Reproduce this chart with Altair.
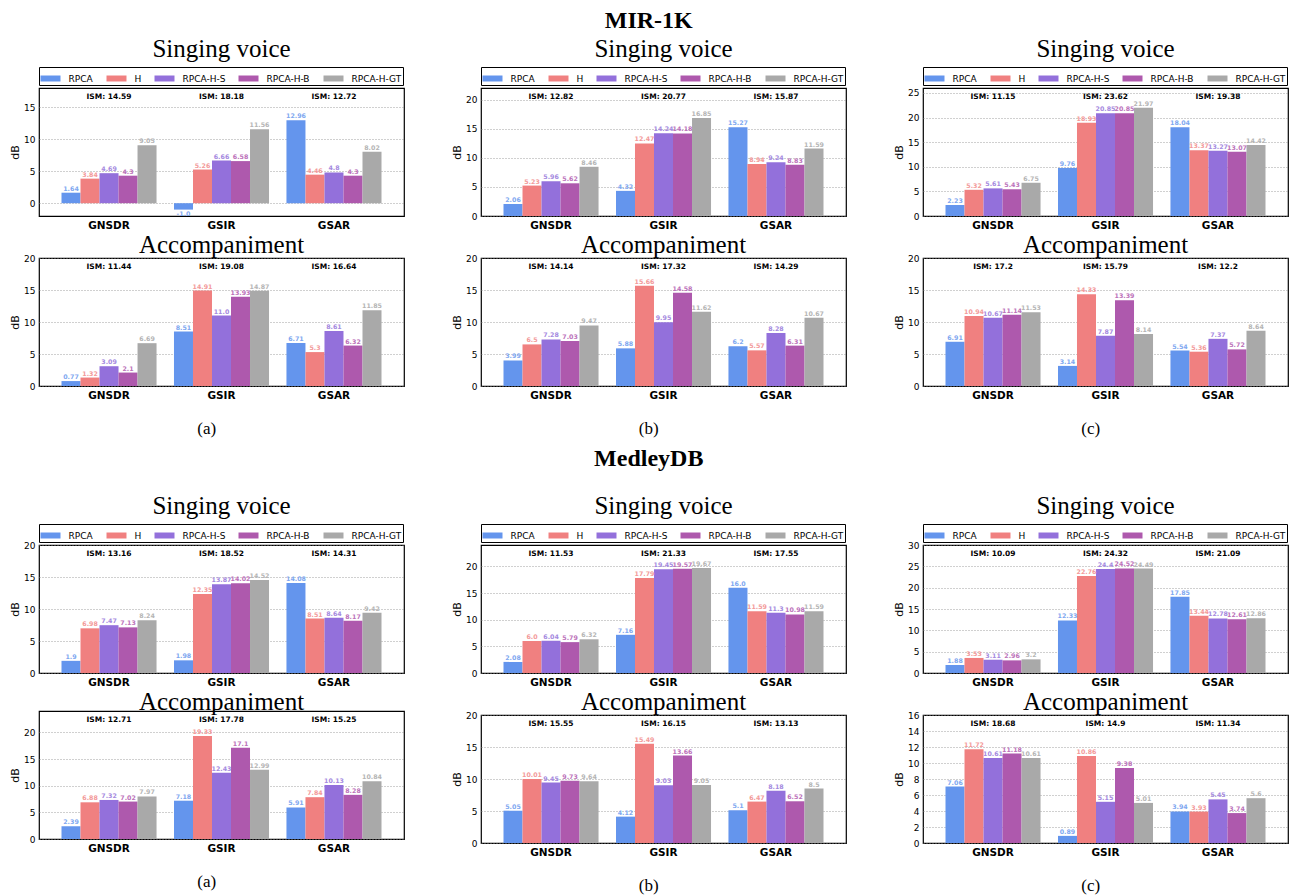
import altair as alt
import pandas as pd

METHODS = ["RPCA", "H", "RPCA-H-S", "RPCA-H-B", "RPCA-H-GT"]
METRICS = ["GNSDR", "GSIR", "GSAR"]
BAR_COLORS = ["#6495ED", "#F08080", "#9370DB", "#AE59AD", "#A9A9A9"]
LABEL_COLORS = ["#7FA8F0", "#F39A9A", "#A58AE0", "#BC72BA", "#B5B5B5"]

# ---- MIR-1K : rows are GNSDR, GSIR, GSAR; columns follow METHODS ----
MIR_A_SV = [[1.64, 3.84, 4.69, 4.3, 9.05], [-1.0, 5.26, 6.66, 6.58, 11.56], [12.96, 4.46, 4.8, 4.3, 8.02]]
MIR_A_SV_ISM = [14.59, 18.18, 12.72]
MIR_A_AC = [[0.77, 1.32, 3.09, 2.1, 6.69], [8.51, 14.91, 11.0, 13.93, 14.87], [6.71, 5.3, 8.61, 6.32, 11.85]]
MIR_A_AC_ISM = [11.44, 19.08, 16.64]

MIR_B_SV = [[2.06, 5.23, 5.96, 5.62, 8.46], [4.32, 12.47, 14.24, 14.18, 16.85], [15.27, 8.94, 9.24, 8.83, 11.59]]
MIR_B_SV_ISM = [12.82, 20.77, 15.87]
MIR_B_AC = [[3.99, 6.5, 7.28, 7.03, 9.47], [5.88, 15.66, 9.95, 14.58, 11.62], [6.2, 5.57, 8.28, 6.31, 10.67]]
MIR_B_AC_ISM = [14.14, 17.32, 14.29]

MIR_C_SV = [[2.23, 5.32, 5.61, 5.43, 6.75], [9.76, 18.93, 20.85, 20.85, 21.97], [18.04, 13.37, 13.27, 13.07, 14.42]]
MIR_C_SV_ISM = [11.15, 23.62, 19.38]
MIR_C_AC = [[6.91, 10.94, 10.67, 11.14, 11.53], [3.14, 14.33, 7.87, 13.39, 8.14], [5.54, 5.36, 7.37, 5.72, 8.64]]
MIR_C_AC_ISM = [17.2, 15.79, 12.2]

# ---- MedleyDB ----
MED_A_SV = [[1.9, 6.98, 7.47, 7.13, 8.24], [1.98, 12.35, 13.87, 14.02, 14.52], [14.08, 8.51, 8.64, 8.17, 9.42]]
MED_A_SV_ISM = [13.16, 18.52, 14.31]
MED_A_AC = [[2.39, 6.88, 7.32, 7.02, 7.97], [7.18, 19.33, 12.43, 17.1, 12.99], [5.91, 7.84, 10.13, 8.28, 10.84]]
MED_A_AC_ISM = [12.71, 17.78, 15.25]

MED_B_SV = [[2.08, 6.0, 6.04, 5.79, 6.32], [7.16, 17.79, 19.45, 19.57, 19.67], [16.0, 11.59, 11.3, 10.98, 11.59]]
MED_B_SV_ISM = [11.53, 21.33, 17.55]
MED_B_AC = [[5.05, 10.01, 9.45, 9.73, 9.64], [4.12, 15.49, 9.03, 13.66, 9.05], [5.1, 6.47, 8.18, 6.52, 8.5]]
MED_B_AC_ISM = [15.55, 16.15, 13.13]

MED_C_SV = [[1.88, 3.53, 3.11, 2.96, 3.2], [12.33, 22.76, 24.4, 24.52, 24.49], [17.85, 13.44, 12.78, 12.61, 12.86]]
MED_C_SV_ISM = [10.09, 24.32, 21.09]
MED_C_AC = [[7.06, 11.72, 10.61, 11.18, 10.61], [0.89, 10.86, 5.15, 9.38, 5.01], [3.94, 3.93, 5.45, 3.74, 5.6]]
MED_C_AC_ISM = [18.68, 14.9, 11.34]

SERIF = "Liberation Serif"
SANS = "DejaVu Sans"
W, H = 365, 128
LEGEND_PATH = "M-1,-0.3L1,-0.3L1,0.3L-1,0.3Z"


def make_panel(vals, ism, dom, ticks, title_text, legend, title_offset):
    rows = []
    for i, m in enumerate(METRICS):
        for j, s in enumerate(METHODS):
            v = vals[i][j]
            rows.append({"metric": m, "method": s, "value": v, "label": str(v),
                         "tcolor": LABEL_COLORS[j]})
    df = pd.DataFrame(rows)
    idf = pd.DataFrame({"metric": METRICS, "ism": ["ISM: " + str(v) for v in ism]})

    x = alt.X("metric:N", sort=METRICS,
              scale=alt.Scale(paddingInner=0.155, paddingOuter=0.2),
              axis=alt.Axis(title=None, labelAngle=0, labelFont=SANS, labelFontSize=10.5,
                            labelFontWeight="bold", labelColor="black", ticks=False,
                            domain=False, labelPadding=4))
    xo = alt.XOffset("method:N", sort=METHODS, scale=alt.Scale(paddingInner=0, paddingOuter=0))
    y = alt.Y("value:Q", stack=None, scale=alt.Scale(domain=dom, nice=False),
              axis=alt.Axis(values=ticks, title="dB", titleFont=SANS, titleFontSize=11,
                            titleFontWeight="normal", titleColor="black", titlePadding=3,
                            labelFont=SANS, labelFontSize=9, labelColor="black",
                            ticks=False, labelPadding=4, domain=False,
                            grid=True, gridDash=[1, 2], gridColor="#888888", gridWidth=0.8))

    if legend:
        leg = alt.Legend(title=None, orient="none", legendX=0, legendY=-21,
                         direction="horizontal", columns=5, symbolType=LEGEND_PATH,
                         symbolSize=400, symbolStrokeWidth=0, symbolOpacity=1,
                         labelFont=SANS, labelFontSize=9, labelColor="black",
                         labelOffset=8, columnPadding=13, padding=1.5, rowPadding=0,
                         strokeColor="black", fillColor="white", cornerRadius=0)
    else:
        leg = None
    color = alt.Color("method:N", sort=METHODS,
                      scale=alt.Scale(domain=METHODS, range=BAR_COLORS), legend=leg)

    bars = alt.Chart(df).mark_bar().encode(x=x, xOffset=xo, y=y, color=color)
    pos = alt.Chart(df).transform_filter("datum.value >= 0").mark_text(
        baseline="bottom", dy=-1, font=SANS, fontSize=6.3, fontWeight="bold").encode(
        x=x, xOffset=xo, y=y, text="label:N", color=alt.Color("tcolor:N", scale=None))
    neg = alt.Chart(df).transform_filter("datum.value < 0").mark_text(
        baseline="top", dy=1, font=SANS, fontSize=6.3, fontWeight="bold").encode(
        x=x, xOffset=xo, y=y, text="label:N", color=alt.Color("tcolor:N", scale=None))
    ismt = alt.Chart(idf).mark_text(
        baseline="middle", font=SANS, fontSize=7.5, fontWeight="bold", color="black").encode(
        x=x, y=alt.value(9), text="ism:N")

    return alt.layer(bars, pos, neg, ismt).properties(
        width=W, height=H,
        title=alt.TitleParams(title_text, font=SERIF, fontSize=25, fontWeight="normal",
                              color="black", offset=title_offset, baseline="alphabetic"))


def make_column(sv, sv_ism, sv_dom, sv_ticks, ac, ac_ism, ac_dom, ac_ticks, letter):
    p1 = make_panel(sv, sv_ism, sv_dom, sv_ticks, "Singing voice", True, -15)
    p2 = make_panel(ac, ac_ism, ac_dom, ac_ticks, "Accompaniment", False, -24)
    return alt.vconcat(p1, p2, spacing=0,
                       title=alt.TitleParams(letter, orient="bottom", font=SERIF, fontSize=17,
                                             fontWeight="normal", color="black", offset=20,
                                             anchor="middle")
                       ).resolve_scale(color="independent").resolve_legend(color="independent")


T5_15 = [0, 5, 10, 15]
T5_20 = [0, 5, 10, 15, 20]
T5_25 = [0, 5, 10, 15, 20, 25]
T5_30 = [0, 5, 10, 15, 20, 25, 30]
T2_16 = [0, 2, 4, 6, 8, 10, 12, 14, 16]

mir = alt.hconcat(
    make_column(MIR_A_SV, MIR_A_SV_ISM, [-2, 18], T5_15, MIR_A_AC, MIR_A_AC_ISM, [0, 20], T5_20, "(a)"),
    make_column(MIR_B_SV, MIR_B_SV_ISM, [0, 22], T5_20, MIR_B_AC, MIR_B_AC_ISM, [0, 20], T5_20, "(b)"),
    make_column(MIR_C_SV, MIR_C_SV_ISM, [0, 26], T5_25, MIR_C_AC, MIR_C_AC_ISM, [0, 20], T5_20, "(c)"),
    spacing=45,
    title=alt.TitleParams("MIR-1K", font=SERIF, fontSize=24, fontWeight="bold", color="black",
                          offset=-16, anchor="middle", baseline="alphabetic"),
).resolve_scale(color="independent").resolve_legend(color="independent")

med = alt.hconcat(
    make_column(MED_A_SV, MED_A_SV_ISM, [0, 20], T5_20, MED_A_AC, MED_A_AC_ISM, [0, 24], T5_20, "(a)"),
    make_column(MED_B_SV, MED_B_SV_ISM, [0, 24], T5_20, MED_B_AC, MED_B_AC_ISM, [0, 20], T5_20, "(b)"),
    make_column(MED_C_SV, MED_C_SV_ISM, [0, 30], T5_30, MED_C_AC, MED_C_AC_ISM, [0, 16], T2_16, "(c)"),
    spacing=45,
    title=alt.TitleParams("MedleyDB", font=SERIF, fontSize=24, fontWeight="bold", color="black",
                          offset=3, anchor="middle", baseline="alphabetic"),
).resolve_scale(color="independent").resolve_legend(color="independent")

chart = alt.vconcat(mir, med, spacing=8).resolve_scale(color="independent").resolve_legend(
    color="independent").properties(padding=0, background="white").configure_view(
    stroke="black", strokeWidth=1.2)

chart.save("out.html", embed_options={"renderer": "svg", "actions": False})
